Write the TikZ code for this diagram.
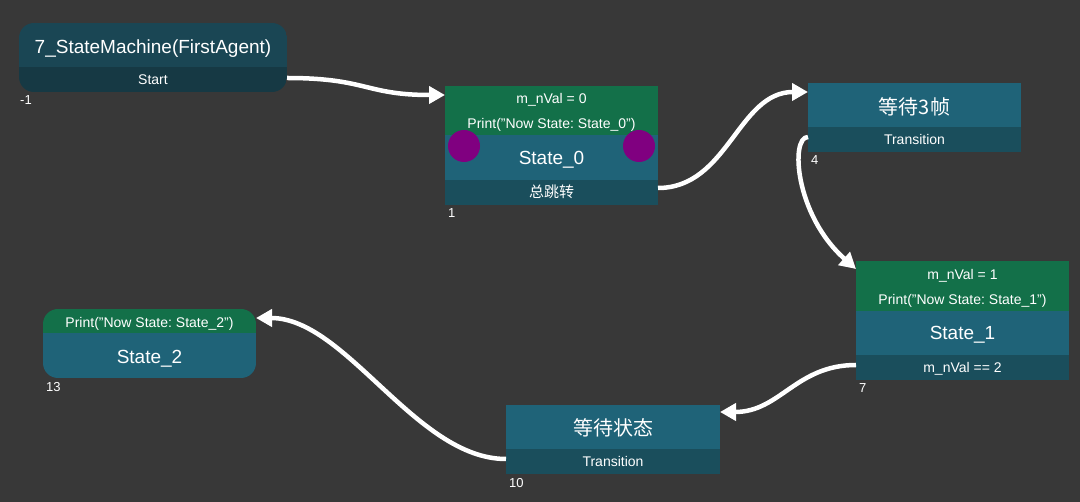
\documentclass[tikz,border=0pt]{standalone}
\usepackage{fontspec}
\setmainfont{Liberation Sans}
\newfontfamily\cjk{Noto Sans CJK SC}
\usetikzlibrary{arrows.meta}
\frenchspacing
\definecolor{bg}{HTML}{383838}
\definecolor{gtop}{HTML}{137049}
\definecolor{bmid}{HTML}{1F6378}
\definecolor{dbar}{HTML}{1A4E5C}
\definecolor{atop}{HTML}{1A4654}
\definecolor{abar}{HTML}{163944}
\definecolor{dot}{HTML}{800080}
\tikzset{
  frame/.style={inner sep=0, outer sep=0, draw=none, anchor=north west},
  ttl/.style={text=white, inner sep=0, anchor=base, font=\fontsize{19}{22}\selectfont},
  sml/.style={text=white, inner sep=0, anchor=base, font=\fontsize{14}{16}\selectfont},
  cjkbig/.style={text=white, inner sep=0, anchor=base, font=\cjk\fontsize{20}{22}\selectfont},
  cjksml/.style={text=white, inner sep=0, anchor=base, font=\cjk\fontsize{15}{17}\selectfont},
  idl/.style={text=white, inner sep=0, anchor=base west, font=\fontsize{13}{15}\selectfont},
  port/.style={circle, fill=dot, inner sep=0, minimum size=32pt},
  wire/.style={white, line width=4.5pt, -{Triangle[length=16pt,width=17pt]}}
}
\begin{document}
\begin{tikzpicture}[x=1pt,y=-1pt]
\fill[bg] (0,0) rectangle (1080,502);
\useasboundingbox (0,0) rectangle (1080,502);

% Node A: 7_StateMachine(FirstAgent)
\node[frame, minimum width=268pt, minimum height=69pt] (A) at (19,23) {};
\begin{scope}
  \clip[rounded corners=15pt] (A.north west) rectangle (A.south east);
  \fill[atop] (19,23) rectangle (287,67);
  \fill[abar] (19,67) rectangle (287,92);
\end{scope}
\node[ttl] (Atitle) at (153,54) {7\_StateMachine(FirstAgent)};
\node[sml] (Astart) at (153,85) {Start};
\node[idl] (Aid) at (20,105) {-1};

% Node B: State_0
\node[frame, minimum width=213pt, minimum height=119pt] (S0) at (445,86) {};
\fill[gtop] (445,86) rectangle (658,135);
\fill[bmid] (445,135) rectangle (658,180);
\fill[dbar] (445,180) rectangle (658,205);
\node[sml] (S0a) at (551.5,104) {m\_nVal = 0};
\node[sml] (S0b) at (551.5,129) {Print("Now State: State\_0")};
\node[port] (S0p1) at (464,146) {};
\node[port] (S0p2) at (639,146) {};
\node[ttl] (S0t) at (551.5,165) {State\_0};
\node[cjksml] (S0j) at (551.5,198) {总跳转};
\node[idl] (S0id) at (448,218) {1};

% Node C: wait 3 frames
\node[frame, minimum width=213pt, minimum height=69pt] (C) at (808,83) {};
\fill[bmid] (808,83) rectangle (1021,127);
\fill[dbar] (808,127) rectangle (1021,152);
\node[cjkbig] (Ct) at (914.5,114.5) {等待3帧};
\node[sml] (Ctr) at (914.5,145) {Transition};
\node[idl] (Cid) at (811,165) {4};

% Node D: State_1
\node[frame, minimum width=213pt, minimum height=119pt] (S1) at (856,261) {};
\fill[gtop] (856,261) rectangle (1069,311);
\fill[bmid] (856,311) rectangle (1069,355);
\fill[dbar] (856,355) rectangle (1069,380);
\node[sml] (S1a) at (962.5,280) {m\_nVal = 1};
\node[sml] (S1b) at (962.5,305) {Print("Now State: State\_1")};
\node[ttl] (S1t) at (962.5,340) {State\_1};
\node[sml] (S1c) at (962.5,373) {m\_nVal == 2};
\node[idl] (S1id) at (859,393) {7};

% Node E: State_2
\node[frame, minimum width=213pt, minimum height=69pt] (E) at (43,309) {};
\begin{scope}
  \clip[rounded corners=15pt] (E.north west) rectangle (E.south east);
  \fill[gtop] (43,309) rectangle (256,333);
  \fill[bmid] (43,333) rectangle (256,378);
\end{scope}
\node[sml] (Ea) at (149.5,328) {Print("Now State: State\_2")};
\node[ttl] (Et) at (149.5,364) {State\_2};
\node[idl] (Eid) at (46,392) {13};

% Node F: wait state
\node[frame, minimum width=214pt, minimum height=69pt] (F) at (506,405) {};
\fill[bmid] (506,405) rectangle (720,449);
\fill[dbar] (506,449) rectangle (720,474);
\node[cjkbig] (Ft) at (613,435.5) {等待状态};
\node[sml] (Ftr) at (613,467) {Transition};
\node[idl] (Fid) at (509,488) {10};

% Connectors
\draw[wire] ([yshift=-55pt]A.north east) .. controls +(80,0) and +(-80,0) .. ([yshift=-9pt]S0.north west);
\draw[wire] ([yshift=-102pt]S0.north east) .. controls +(70,0) and +(-70,0) .. ([yshift=-9pt]C.north west);
\draw[wire] ([yshift=-54pt]C.north west) .. controls +(-18,0) and +(-61,-54) .. ([yshift=-8pt]S1.north west);
\draw[wire] ([yshift=-104pt]S1.north west) .. controls +(-60,0) and +(60,0) .. ([yshift=-7pt]F.north east);
\draw[wire] ([yshift=-54pt]F.north west) .. controls +(-90,0) and +(90,0) .. ([yshift=-9pt]E.north east);
\end{tikzpicture}
\end{document}
